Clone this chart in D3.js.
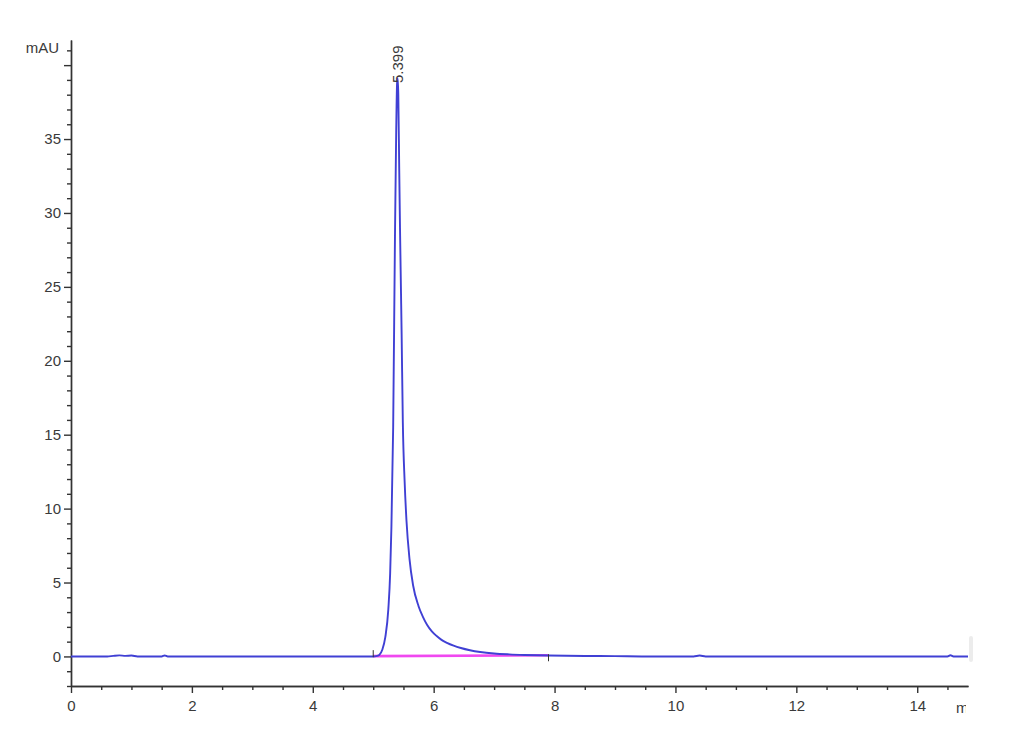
<!DOCTYPE html>
<html>
<head>
<meta charset="utf-8">
<script src="https://cdn.jsdelivr.net/npm/d3@7"></script>
<style>
  html, body { margin: 0; padding: 0; background: #fff; }
  svg { display: block; }
  text { font-family: "Liberation Sans", Arial, sans-serif; fill: #3a3a3a; }
</style>
</head>
<body>
<svg id="chart" width="1030" height="755"></svg>
<script>
// ---- data ----
const signalTime = [0, 0.3, 0.6, 0.7, 0.8, 0.9, 1.0, 1.1, 1.5, 1.55, 1.6, 2.5, 3.5, 4.2, 4.6, 4.9, 5.0, 5.05, 5.1, 5.15, 5.2, 5.25, 5.28, 5.3, 5.33, 5.36, 5.38, 5.395, 5.405, 5.415, 5.43, 5.443, 5.46, 5.47, 5.49, 5.52, 5.55, 5.6, 5.66, 5.75, 5.82, 5.89, 5.97, 6.05, 6.13, 6.22, 6.33, 6.45, 6.6, 6.77, 7.0, 7.25, 7.5, 7.9, 8.5, 9.0, 9.5, 10.3, 10.4, 10.5, 11.5, 12.5, 13.5, 14.5, 14.55, 14.6, 14.84];
const signalMAU  = [0, 0, 0, 0.04, 0.07, 0.04, 0.06, 0, 0, 0.06, 0, 0, 0, 0, 0, 0, 0, 0.02, 0.1, 0.45, 1.3, 3.2, 5.6, 8.6, 15.5, 28.5, 35.5, 38.8, 39.1, 38.0, 33.0, 29.0, 24.5, 21.8, 15.8, 11.8, 9.2, 6.6, 4.8, 3.4, 2.7, 2.15, 1.7, 1.38, 1.12, 0.92, 0.73, 0.57, 0.42, 0.3, 0.2, 0.14, 0.1, 0.06, 0.03, 0.02, 0, 0, 0.06, 0, 0, 0, 0, 0, 0.08, 0, 0];
const baselineTime = [5.0, 7.9];
const baselineMAU  = [0.02, 0.08];
const peakRT = 5.399;
const peakLabel = "5.399";
const xMajorTicks = [0, 2, 4, 6, 8, 10, 12, 14];
const yMajorTicks = [0, 5, 10, 15, 20, 25, 30, 35, 40];
const yTickLabels = ["0", "5", "10", "15", "20", "25", "30", "35", ""];
const xUnit = "min";
const yUnit = "mAU";

// ---- layout ----
const svg = d3.select("#chart");
const plotL = 71, plotR = 968, plotT = 40, plotB = 686;
const x = d3.scaleLinear().domain([0, 14.84]).range([plotL, plotR]);
const y = d3.scaleLinear().domain([-2, 41.7]).range([plotB, plotT]);

const axisFont = "'Liberation Sans', Arial, sans-serif";

// y axis
const yMinor = d3.range(-2, 42, 1).filter(v => !yMajorTicks.includes(v));
const yAxisMinor = d3.axisLeft(y).tickValues(yMinor).tickSize(4).tickSizeOuter(0).tickFormat("");
const yAxisMajor = d3.axisLeft(y).tickValues(yMajorTicks).tickSize(7).tickSizeOuter(0).tickPadding(3)
  .tickFormat((d, i) => yTickLabels[i]);
const gyMin = svg.append("g").attr("transform", `translate(${plotL},0)`).call(yAxisMinor);
const gy = svg.append("g").attr("transform", `translate(${plotL},0)`).call(yAxisMajor);
[gy, gyMin].forEach(g => {
  g.select(".domain").attr("stroke", "#333").attr("stroke-width", 1.4);
  g.selectAll(".tick line").attr("stroke", "#333").attr("stroke-width", 1.4);
});
gy.selectAll(".tick text").style("font-size", "15px").attr("fill", "#3a3a3a")
  .style("font-family", axisFont);

// x axis
const xMinor = d3.range(0.5, 14.84, 0.5).filter(v => !xMajorTicks.includes(v));
const xAxisMinor = d3.axisBottom(x).tickValues(xMinor).tickSize(4).tickSizeOuter(0).tickFormat("");
const xAxisMajor = d3.axisBottom(x).tickValues(xMajorTicks).tickSize(7).tickSizeOuter(0).tickPadding(7)
  .tickFormat(d3.format("d"));
const gxMin = svg.append("g").attr("transform", `translate(0,${plotB})`).call(xAxisMinor);
const gx = svg.append("g").attr("transform", `translate(0,${plotB})`).call(xAxisMajor);
[gx, gxMin].forEach(g => {
  g.select(".domain").attr("stroke", "#333").attr("stroke-width", 1.4);
  g.selectAll(".tick line").attr("stroke", "#333").attr("stroke-width", 1.4);
});
gx.selectAll(".tick text").style("font-size", "15px").attr("fill", "#3a3a3a")
  .style("font-family", axisFont);

// unit labels
svg.append("text").attr("x", 59).attr("y", 53).attr("text-anchor", "end")
  .style("font-size", "15px").style("font-family", "'Liberation Sans Narrow', 'Liberation Sans', Arial, sans-serif")
  .attr("fill", "#3a3a3a").text(yUnit);
svg.append("clipPath").attr("id", "unitClip").append("rect")
  .attr("x", 940).attr("y", 690).attr("width", 26).attr("height", 30);
svg.append("text").attr("x", 956).attr("y", 713).attr("clip-path", "url(#unitClip)")
  .style("font-size", "15px").style("font-family", "'Liberation Sans Narrow', 'Liberation Sans', Arial, sans-serif")
  .attr("fill", "#3a3a3a").text(xUnit);

// right end mark
svg.append("rect").attr("x", plotR + 1).attr("y", 636).attr("width", 4).attr("height", 26)
  .attr("fill", "#ececec").attr("rx", 2);

// baseline (integration)
const line = d3.line().x(d => x(d[0])).y(d => y(d[1]));
svg.append("path").datum(baselineTime.map((t, i) => [t, baselineMAU[i]]))
  .attr("d", line).attr("fill", "none").attr("stroke", "#f048f0").attr("stroke-width", 2.6);

// signal
svg.append("path").datum(signalTime.map((t, i) => [t, signalMAU[i]]))
  .attr("d", d3.line().x(d => x(d[0])).y(d => y(d[1])).curve(d3.curveMonotoneX))
  .attr("fill", "none").attr("stroke", "#4040d4").attr("stroke-width", 1.9)
  .attr("stroke-linejoin", "round");

// integration markers
svg.append("line").attr("x1", x(baselineTime[0])).attr("x2", x(baselineTime[0]))
  .attr("y1", y(baselineMAU[0]) - 6).attr("y2", y(baselineMAU[0]) + 1)
  .attr("stroke", "#333").attr("stroke-width", 1);
svg.append("line").attr("x1", x(baselineTime[1])).attr("x2", x(baselineTime[1]))
  .attr("y1", y(baselineMAU[1]) - 1).attr("y2", y(baselineMAU[1]) + 6)
  .attr("stroke", "#333").attr("stroke-width", 1);

// peak label
const px = x(peakRT);
svg.append("text")
  .attr("transform", `translate(${px + 6},${83}) rotate(-90)`)
  .attr("text-anchor", "start")
  .style("font-size", "15px").attr("fill", "#333").text(peakLabel);
</script>
</body>
</html>
